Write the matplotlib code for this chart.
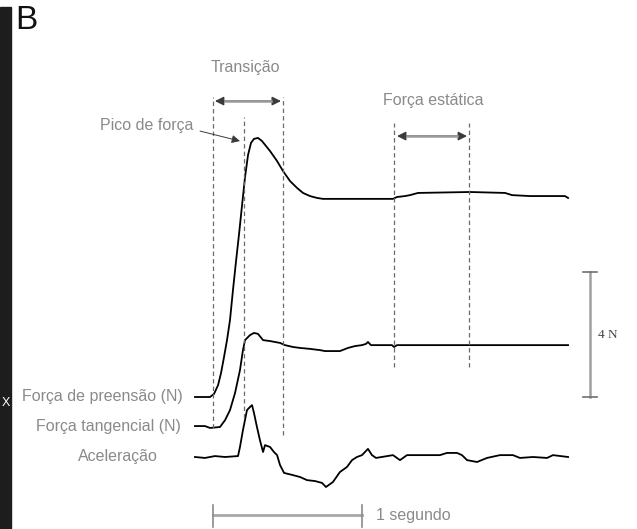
import matplotlib
matplotlib.use("Agg")
import matplotlib.pyplot as plt
from matplotlib.patches import Rectangle
import numpy as np

# Time (s) and signals, relative to each trace's resting baseline
t_preensao = [-0.121, -0.020, 0.007, 0.034, 0.054, 0.074, 0.094, 0.114, 0.134, 0.154,
              0.174, 0.195, 0.215, 0.235, 0.255, 0.275, 0.302, 0.329, 0.356, 0.383,
              0.430, 0.470, 0.517, 0.564, 0.604, 0.651, 0.698, 0.738, 1.208, 1.235,
              1.289, 1.322, 1.376, 1.725, 1.960, 2.007, 2.128, 2.362, 2.383]
f_preensao = [0.00, 0.00, 0.10, 0.38, 0.77, 1.28, 1.82, 2.46, 3.42, 4.32,
              5.18, 6.14, 7.04, 7.74, 8.13, 8.26, 8.29, 8.19, 8.03, 7.87,
              7.55, 7.23, 6.91, 6.69, 6.53, 6.43, 6.37, 6.34, 6.34, 6.40,
              6.43, 6.46, 6.53, 6.56, 6.53, 6.46, 6.43, 6.43, 6.37]

t_tangencial = [-0.121, -0.054, -0.020, 0.047, 0.081, 0.114, 0.148, 0.181, 0.201, 0.215,
                0.248, 0.275, 0.302, 0.336, 0.383, 0.450, 0.483, 0.537, 0.584, 0.651,
                0.718, 0.752, 0.852, 0.906, 0.953, 1.000, 1.027, 1.040, 1.060, 1.201,
                1.215, 1.235, 2.383]
f_tangencial = [0.03, 0.03, -0.03, 0.00, 0.22, 0.54, 1.09, 1.82, 2.46, 2.78,
                2.94, 3.01, 2.98, 2.78, 2.75, 2.69, 2.62, 2.56, 2.53, 2.50,
                2.46, 2.43, 2.43, 2.53, 2.59, 2.62, 2.66, 2.72, 2.62, 2.62,
                2.56, 2.62, 2.62]

t_aceleracao = [-0.121, -0.054, 0.013, 0.081, 0.168, 0.181, 0.201, 0.228, 0.248, 0.262,
                0.275, 0.295, 0.315, 0.336, 0.349, 0.383, 0.409, 0.430, 0.450, 0.477,
                0.537, 0.584, 0.631, 0.685, 0.732, 0.758, 0.805, 0.852, 0.899, 0.933,
                0.966, 1.000, 1.040, 1.067, 1.094, 1.208, 1.255, 1.302, 1.436, 1.523,
                1.570, 1.638, 1.671, 1.705, 1.772, 1.839, 1.926, 2.013, 2.060, 2.148,
                2.242, 2.282, 2.383]
a_aceleracao = [0.00, -0.03, 0.03, 0.00, 0.03, 0.32, 0.86, 1.50, 1.60, 1.66,
                1.41, 0.96, 0.54, 0.16, 0.38, 0.32, 0.16, 0.06, -0.26, -0.51,
                -0.58, -0.64, -0.74, -0.77, -0.83, -0.96, -0.80, -0.48, -0.32, -0.10,
                0.00, 0.06, 0.26, 0.06, -0.03, 0.06, -0.10, 0.06, 0.06, 0.06,
                0.13, 0.13, 0.06, -0.10, -0.16, -0.03, 0.06, 0.06, -0.03, 0.00,
                -0.03, 0.06, 0.00]

# Vertical offsets of the stacked traces (N)
offsets = {"preensao": 0.0, "tangencial": -0.96, "aceleracao": -1.92}
# Phase markers (s): transition start, force peak, transition end, static window
marcos = [0.0, 0.208, 0.470, 1.215, 1.718]

W, H = 637, 529
PX_S = 149.0      # pixels per second
PX_N = 31.25      # pixels per newton
X0, Y0 = 213.0, 397.0

fig = plt.figure(figsize=(W / 100, H / 100), dpi=100)
ax = fig.add_axes([0, 0, 1, 1])
ax.set_xlim(-X0 / PX_S, (W - X0) / PX_S)
ax.set_ylim(-(H - Y0) / PX_N, Y0 / PX_N)
ax.set_axis_off()

sans = ["Liberation Sans Narrow", "Liberation Sans", "DejaVu Sans"]
cinza = "#8a8a8a"

# dark strip of the neighbouring panel
fig.patches.append(Rectangle((0, 0), 11 / W, 1 - 7 / H, transform=fig.transFigure,
                             color="#1d1d1d", zorder=0))
fig.text(6 / W, 1 - 403 / H, "X", color="white", ha="center", va="center",
         fontsize=9, family=sans)
fig.text(15 / W, 1 - 5 / H, "B", color="#111111", ha="left", va="top",
         fontsize=24, family=sans)

# traces
lw = 1.3
ax.plot(t_preensao, np.array(f_preensao) + offsets["preensao"], color="black", lw=lw)
ax.plot(t_tangencial, np.array(f_tangencial) + offsets["tangencial"], color="black", lw=lw)
ax.plot(t_aceleracao, np.array(a_aceleracao) + offsets["aceleracao"], color="black", lw=lw)

# dashed phase markers
spans = [(9.60, -0.99), (8.96, -0.67), (9.60, -1.22), (8.77, 0.96), (8.77, 0.96)]
for tm, (top, bot) in zip(marcos, spans):
    ax.plot([tm, tm], [bot, top], color="#6a6a6a", lw=0.9, dashes=(3.5, 2.5))


def double_arrow(x0, x1, y):
    ax.annotate("", xy=(x1, y), xytext=(x0, y),
                arrowprops=dict(arrowstyle="<|-|>", color="#3a3a3a", lw=1.0,
                                mutation_scale=13, shrinkA=0, shrinkB=0))
    ax.plot([x0 + 0.07, x1 - 0.07], [y, y], color="#9a9a9a", lw=1.8, zorder=3)


double_arrow(marcos[0] + 0.013, marcos[2] - 0.014, 9.47)
double_arrow(marcos[3] + 0.02, marcos[4] - 0.013, 8.35)

fs = 11.5
ax.text(0.215, 10.53, "Transição", color=cinza, ha="center", va="center",
        fontsize=fs, family=sans)
ax.text(1.477, 9.50, "Força estática", color=cinza, ha="center", va="center",
        fontsize=fs, family=sans)
ax.text(-0.134, 8.70, "Pico de força", color=cinza, ha="right", va="center",
        fontsize=fs, family=sans)
ax.annotate("", xy=(0.181, 8.19), xytext=(-0.087, 8.51),
            arrowprops=dict(arrowstyle="-|>", color="#3a3a3a", lw=0.7,
                            mutation_scale=12, shrinkA=0, shrinkB=0))

# trace labels
ax.text(-0.201, offsets["preensao"], "Força de preensão (N)", color=cinza,
        ha="right", va="center", fontsize=fs, family=sans)
ax.text(-0.215, offsets["tangencial"], "Força tangencial (N)", color=cinza,
        ha="right", va="center", fontsize=fs, family=sans)
ax.text(-0.369, offsets["aceleracao"], "Aceleração", color=cinza,
        ha="right", va="center", fontsize=fs, family=sans)

# 4 N scale bar
xb = 2.530
ax.plot([xb, xb], [0, 4], color="#a0a0a0", lw=1.8)
for yy in (0, 4):
    ax.plot([xb - 0.047, xb + 0.047], [yy, yy], color="#707070", lw=1.2)
ax.text(2.584, 1.98, "4 N", color="#444444", ha="left", va="center",
        fontsize=9.5, family=["Liberation Serif", "DejaVu Serif"])

# 1 s scale bar
yb = -3.78
ax.plot([0, 1], [yb, yb], color="#a8a8a8", lw=2.0)
for xx in (0, 1):
    ax.plot([xx, xx], [-3.46, -4.16], color="#8a8a8a", lw=1.2)
ax.text(1.094, yb, "1 segundo", color=cinza, ha="left", va="center",
        fontsize=fs, family=sans)

fig.savefig("out.png", dpi=100)
